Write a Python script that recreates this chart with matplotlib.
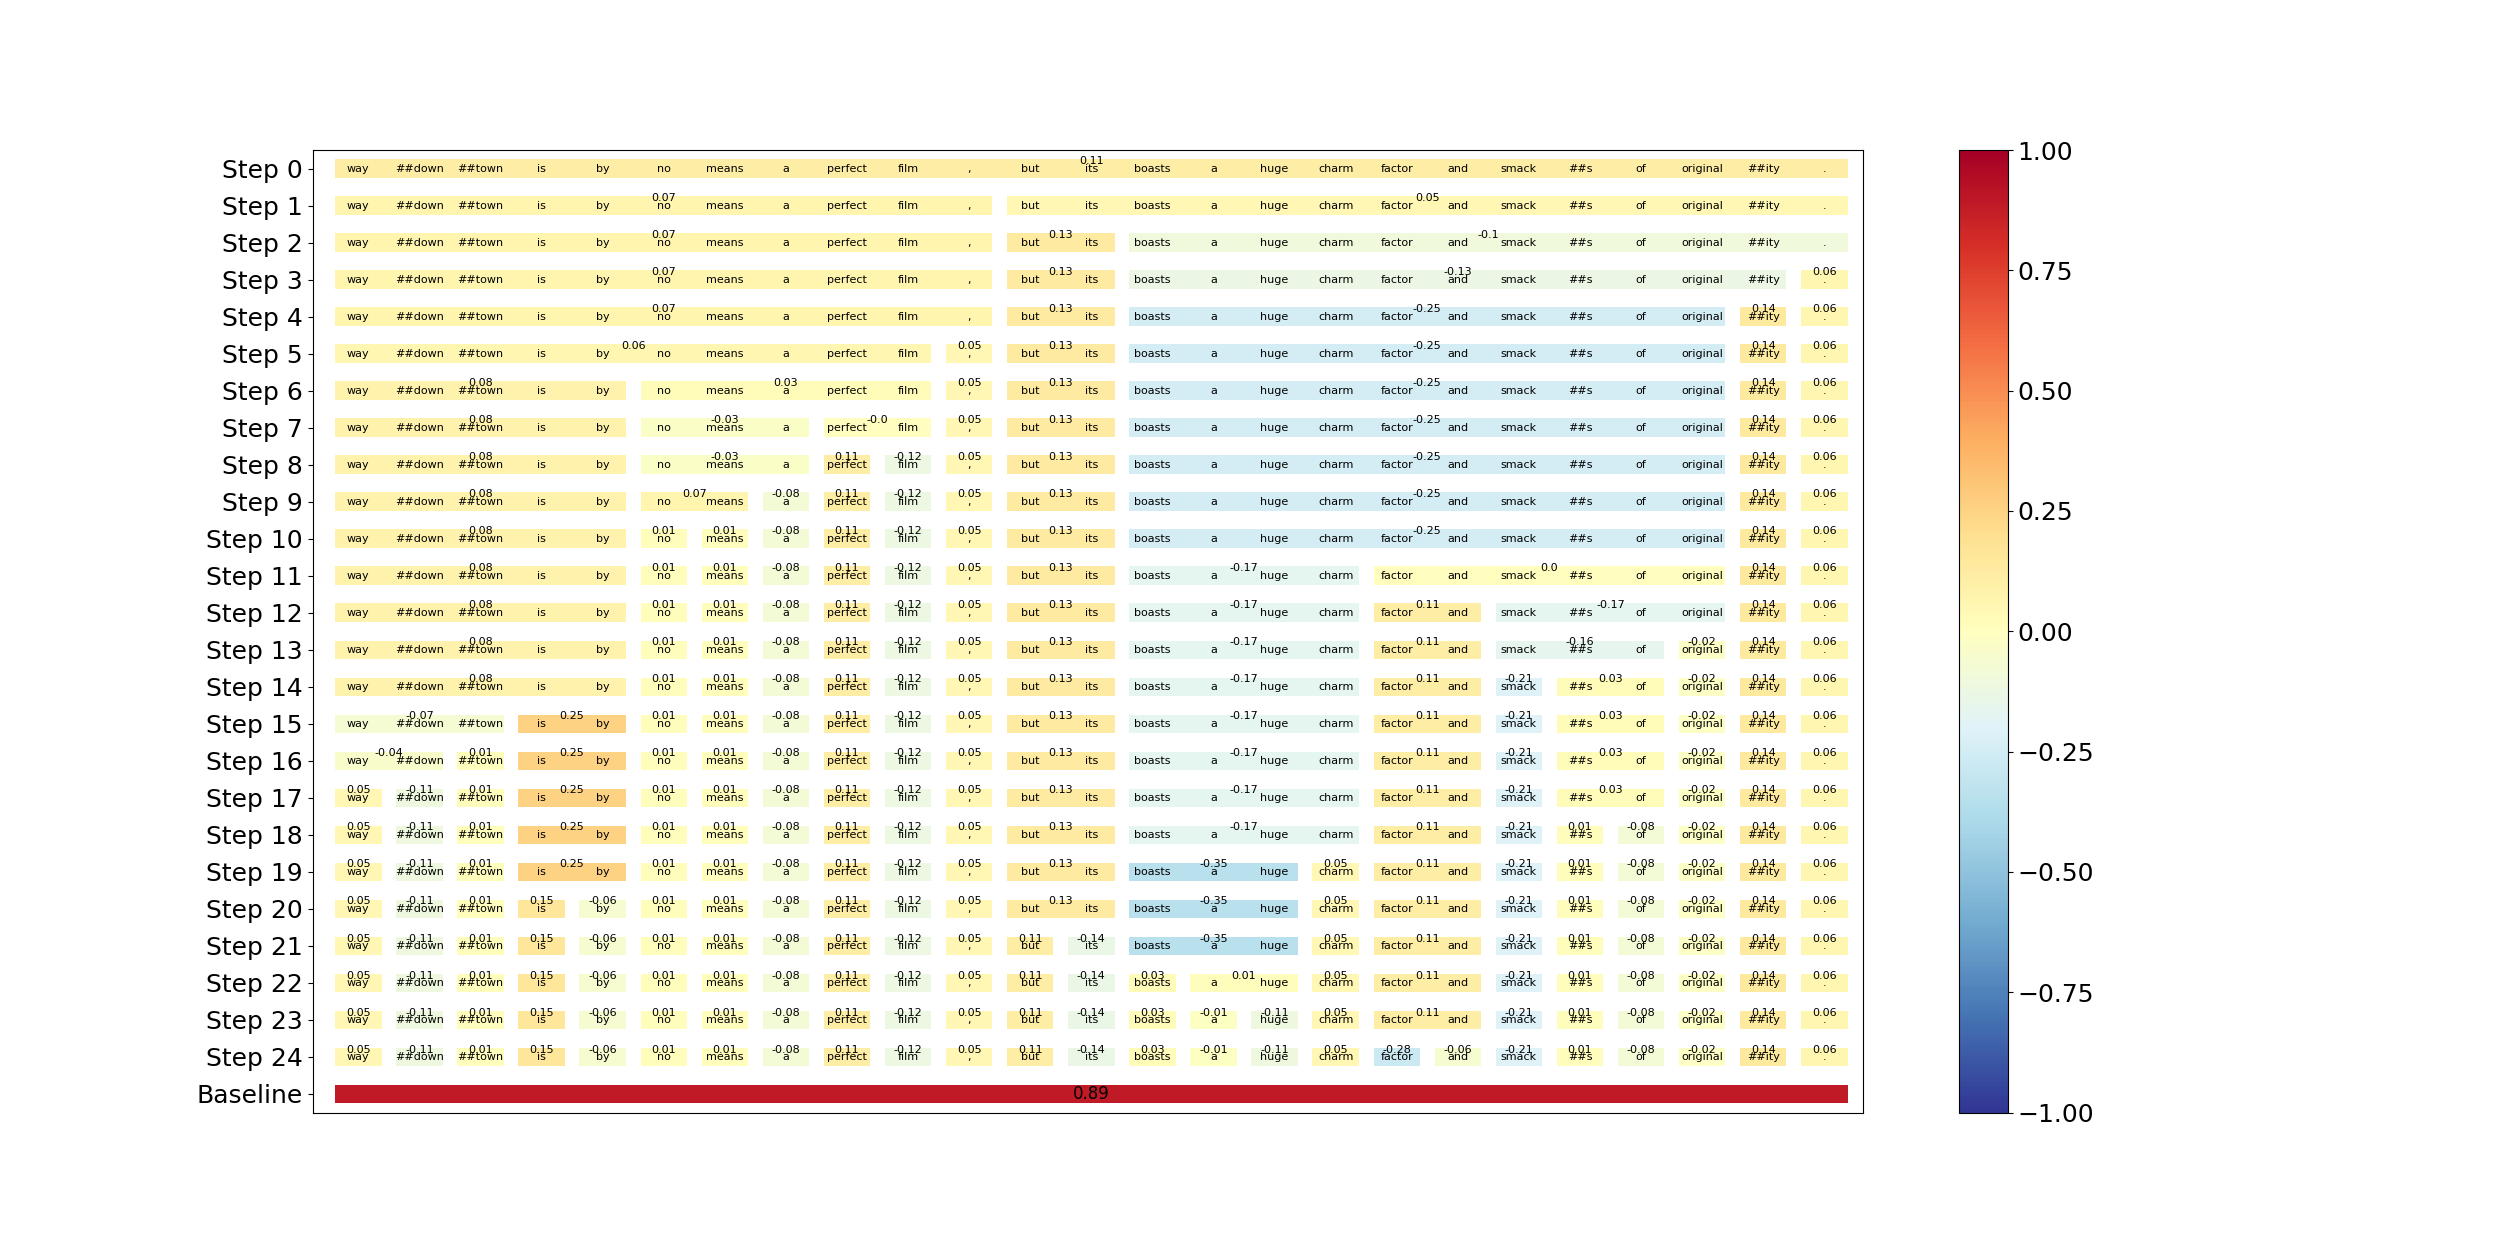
import matplotlib
matplotlib.use("Agg")
import matplotlib.pyplot as plt
from matplotlib import cm, colors

# --- tokens and row labels ---
tokens = ["way", "##down", "##town", "is", "by", "no", "means", "a", "perfect",
          "film", ",", "but", "its", "boasts", "a", "huge", "charm", "factor",
          "and", "smack", "##s", "of", "original", "##ity", "."]
row_labels = [f"Step {i}" for i in range(25)] + ["Baseline"]

# number of tokens in each group, per step (left to right)
group_sizes = [
    [25],
    [11, 14],
    [11, 2, 12],
    [11, 2, 11, 1],
    [11, 2, 10, 1, 1],
    [10, 1, 2, 10, 1, 1],
    [5, 5, 1, 2, 10, 1, 1],
    [5, 3, 2, 1, 2, 10, 1, 1],
    [5, 3, 1, 1, 1, 2, 10, 1, 1],
    [5, 2, 1, 1, 1, 1, 2, 10, 1, 1],
    [5, 1, 1, 1, 1, 1, 1, 2, 10, 1, 1],
    [5, 1, 1, 1, 1, 1, 1, 2, 4, 6, 1, 1],
    [5, 1, 1, 1, 1, 1, 1, 2, 4, 2, 4, 1, 1],
    [5, 1, 1, 1, 1, 1, 1, 2, 4, 2, 3, 1, 1, 1],
    [5, 1, 1, 1, 1, 1, 1, 2, 4, 2, 1, 2, 1, 1, 1],
    [3, 2, 1, 1, 1, 1, 1, 1, 2, 4, 2, 1, 2, 1, 1, 1],
    [2, 1, 2, 1, 1, 1, 1, 1, 1, 2, 4, 2, 1, 2, 1, 1, 1],
    [1, 1, 1, 2, 1, 1, 1, 1, 1, 1, 2, 4, 2, 1, 2, 1, 1, 1],
    [1, 1, 1, 2, 1, 1, 1, 1, 1, 1, 2, 4, 2, 1, 1, 1, 1, 1, 1],
    [1, 1, 1, 2, 1, 1, 1, 1, 1, 1, 2, 3, 1, 2, 1, 1, 1, 1, 1, 1],
    [1, 1, 1, 1, 1, 1, 1, 1, 1, 1, 1, 2, 3, 1, 2, 1, 1, 1, 1, 1, 1],
    [1, 1, 1, 1, 1, 1, 1, 1, 1, 1, 1, 1, 1, 3, 1, 2, 1, 1, 1, 1, 1, 1],
    [1, 1, 1, 1, 1, 1, 1, 1, 1, 1, 1, 1, 1, 1, 2, 1, 2, 1, 1, 1, 1, 1, 1],
    [1, 1, 1, 1, 1, 1, 1, 1, 1, 1, 1, 1, 1, 1, 1, 1, 1, 2, 1, 1, 1, 1, 1, 1],
    [1, 1, 1, 1, 1, 1, 1, 1, 1, 1, 1, 1, 1, 1, 1, 1, 1, 1, 1, 1, 1, 1, 1, 1, 1],
    [25],
]

# attribution value of each group
group_values = [
    [0.11],
    [0.07, 0.05],
    [0.07, 0.13, -0.1],
    [0.07, 0.13, -0.13, 0.06],
    [0.07, 0.13, -0.25, 0.14, 0.06],
    [0.06, 0.05, 0.13, -0.25, 0.14, 0.06],
    [0.08, 0.03, 0.05, 0.13, -0.25, 0.14, 0.06],
    [0.08, -0.03, -0.0, 0.05, 0.13, -0.25, 0.14, 0.06],
    [0.08, -0.03, 0.11, -0.12, 0.05, 0.13, -0.25, 0.14, 0.06],
    [0.08, 0.07, -0.08, 0.11, -0.12, 0.05, 0.13, -0.25, 0.14, 0.06],
    [0.08, 0.01, 0.01, -0.08, 0.11, -0.12, 0.05, 0.13, -0.25, 0.14, 0.06],
    [0.08, 0.01, 0.01, -0.08, 0.11, -0.12, 0.05, 0.13, -0.17, 0.0, 0.14, 0.06],
    [0.08, 0.01, 0.01, -0.08, 0.11, -0.12, 0.05, 0.13, -0.17, 0.11, -0.17,
     0.14, 0.06],
    [0.08, 0.01, 0.01, -0.08, 0.11, -0.12, 0.05, 0.13, -0.17, 0.11, -0.16,
     -0.02, 0.14, 0.06],
    [0.08, 0.01, 0.01, -0.08, 0.11, -0.12, 0.05, 0.13, -0.17, 0.11, -0.21,
     0.03, -0.02, 0.14, 0.06],
    [-0.07, 0.25, 0.01, 0.01, -0.08, 0.11, -0.12, 0.05, 0.13, -0.17, 0.11,
     -0.21, 0.03, -0.02, 0.14, 0.06],
    [-0.04, 0.01, 0.25, 0.01, 0.01, -0.08, 0.11, -0.12, 0.05, 0.13, -0.17,
     0.11, -0.21, 0.03, -0.02, 0.14, 0.06],
    [0.05, -0.11, 0.01, 0.25, 0.01, 0.01, -0.08, 0.11, -0.12, 0.05, 0.13,
     -0.17, 0.11, -0.21, 0.03, -0.02, 0.14, 0.06],
    [0.05, -0.11, 0.01, 0.25, 0.01, 0.01, -0.08, 0.11, -0.12, 0.05, 0.13,
     -0.17, 0.11, -0.21, 0.01, -0.08, -0.02, 0.14, 0.06],
    [0.05, -0.11, 0.01, 0.25, 0.01, 0.01, -0.08, 0.11, -0.12, 0.05, 0.13,
     -0.35, 0.05, 0.11, -0.21, 0.01, -0.08, -0.02, 0.14, 0.06],
    [0.05, -0.11, 0.01, 0.15, -0.06, 0.01, 0.01, -0.08, 0.11, -0.12, 0.05,
     0.13, -0.35, 0.05, 0.11, -0.21, 0.01, -0.08, -0.02, 0.14, 0.06],
    [0.05, -0.11, 0.01, 0.15, -0.06, 0.01, 0.01, -0.08, 0.11, -0.12, 0.05,
     0.11, -0.14, -0.35, 0.05, 0.11, -0.21, 0.01, -0.08, -0.02, 0.14, 0.06],
    [0.05, -0.11, 0.01, 0.15, -0.06, 0.01, 0.01, -0.08, 0.11, -0.12, 0.05,
     0.11, -0.14, 0.03, 0.01, 0.05, 0.11, -0.21, 0.01, -0.08, -0.02, 0.14,
     0.06],
    [0.05, -0.11, 0.01, 0.15, -0.06, 0.01, 0.01, -0.08, 0.11, -0.12, 0.05,
     0.11, -0.14, 0.03, -0.01, -0.11, 0.05, 0.11, -0.21, 0.01, -0.08, -0.02,
     0.14, 0.06],
    [0.05, -0.11, 0.01, 0.15, -0.06, 0.01, 0.01, -0.08, 0.11, -0.12, 0.05,
     0.11, -0.14, 0.03, -0.01, -0.11, 0.05, -0.28, -0.06, -0.21, 0.01, -0.08,
     -0.02, 0.14, 0.06],
    [0.89],
]

cmap = cm.get_cmap("RdYlBu_r") if hasattr(cm, "get_cmap") else plt.get_cmap("RdYlBu_r")
norm = colors.Normalize(vmin=-1, vmax=1)
HALF = 0.38  # bar half-extension around each token

fig, ax = plt.subplots(figsize=(25, 12.5))

baseline_row = len(row_labels) - 1
for row, (sizes, vals) in enumerate(zip(group_sizes, group_values)):
    start = 0
    for size, v in zip(sizes, vals):
        end = start + size - 1
        ax.barh(row, end - start + 2 * HALF, left=start - HALF, height=0.5,
                color=cmap(norm(v)))
        center = (start + end) / 2
        if row == baseline_row:
            ax.text(center, row, str(round(v, 2)), ha="center", va="center",
                    fontsize=12)
        else:
            ax.text(center, row - 0.2, str(round(v, 2)), ha="center",
                    va="center", fontsize=8)
        start = end + 1
    if row != baseline_row:
        for i, tok in enumerate(tokens):
            ax.text(i, row, tok, ha="center", va="center", fontsize=8)

ax.set_yticks(range(len(row_labels)))
ax.set_yticklabels(row_labels, fontsize=18)
ax.set_xticks([])
ax.set_xlim(-0.75, len(tokens) - 0.375)
ax.set_ylim(len(row_labels) - 0.5, -0.5)

sm = cm.ScalarMappable(norm=norm, cmap=cmap)
sm.set_array([])
cbar = fig.colorbar(sm, ax=ax)
cbar.ax.tick_params(labelsize=18)

fig.savefig("out.png", dpi=100)
